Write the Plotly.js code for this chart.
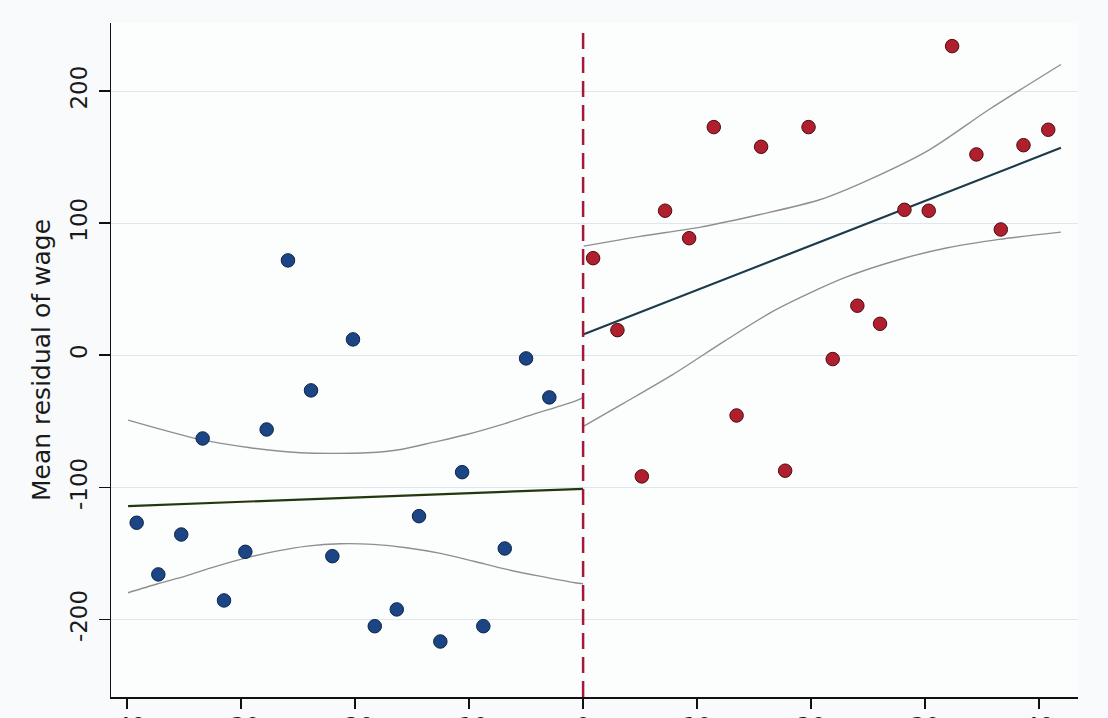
<!DOCTYPE html>
<html>
<head>
<meta charset="utf-8">
<script src="https://cdn.plot.ly/plotly-3.0.1.min.js"></script>
<style>
  html, body { margin: 0; padding: 0; background: #f8fafb; }
  #chart { width: 1108px; height: 718px; }
</style>
</head>
<body>
<div id="chart"></div>
<script>
// ---- Data ----
const cutoff = 0;

// Binned means, left of cutoff
const leftBinX = [-39.15, -37.25, -35.24, -33.36, -31.49, -29.62, -27.75, -25.88, -23.86, -21.99,
                  -20.18, -18.27, -16.34, -14.39, -12.52, -10.61, -8.75, -6.87, -5.0, -2.96];
const leftBinY = [-126.8, -165.9, -135.7, -63.0, -185.6, -148.8, -56.2, 71.8, -26.6, -152.1,
                  12.0, -205.1, -192.4, -121.8, -216.7, -88.5, -205.1, -146.3, -2.4, -31.9];

// Binned means, right of cutoff
const rightBinX = [0.88, 3.01, 5.15, 7.19, 9.30, 11.46, 13.46, 15.61, 17.72, 19.77,
                   21.89, 24.05, 26.04, 28.18, 30.31, 32.36, 34.49, 36.63, 38.62, 40.79];
const rightBinY = [73.5, 19.0, -91.7, 109.4, 88.6, 172.7, -45.6, 157.8, -87.4, 172.7,
                   -2.9, 37.5, 23.8, 110.1, 109.4, 234.0, 152.0, 95.2, 159.0, 170.7];

// Linear fits
const leftFitX = [-39.9, 0];
const leftFitY = [-114.2, -101.1];
const rightFitX = [0, 41.9];
const rightFitY = [15.7, 157.0];

// Confidence bands, left
const leftCIX  = [-39.9, -33.6, -29.2, -24.8, -21.9, -18.9, -16.0, -13.1, -10.2, -7.3, -4.4, -0.7, 0];
const leftCIUp = [-49.1, -63.7, -70.0, -73.8, -74.3, -73.8, -71.3, -65.8, -60.0, -52.9, -44.8, -34.7, -32.0];
const leftCILoX = [-39.9, -37.3, -34.8, -32.7, -29.8, -26.9, -24.2, -21.3, -18.4, -15.5, -12.5, -9.6, -6.7, -3.8, -0.7, 0];
const leftCILo  = [-179.8, -173.0, -167.0, -161.2, -154.0, -148.3, -144.5, -142.7, -143.2, -145.7, -150.0, -155.9, -162.1, -167.2, -172.2, -173.0];

// Confidence bands, right
const rightCIX  = [0.06, 5.0, 10.3, 15.5, 20.8, 25.1, 30.4, 35.6, 41.9];
const rightCIUp = [82.6, 90.0, 97.0, 106.5, 117.9, 133.0, 155.7, 186.0, 220.1];
const rightCILoX = [0.06, 3.38, 7.89, 12.40, 16.92, 22.94, 27.75, 31.96, 36.48, 41.9];
const rightCILo  = [-53.7, -37.2, -14.5, 10.7, 34.5, 58.7, 72.5, 81.4, 87.7, 93.2];

// Axis ticks
const yTickVals = [-200, -100, 0, 100, 200];
const yTickText = ['-200', '-100', '0', '100', '200'];
const xTickVals = [-40, -30, -20, -10, 0, 10, 20, 30, 40];
const xTickText = ['-40', '-30', '-20', '-10', '0', '10', '20', '30', '40'];

// ---- Traces ----
const ciStyle = { color: '#8f8f8f', width: 1.4, shape: 'spline', smoothing: 0.8 };
const traces = [
  { x: leftCIX, y: leftCIUp, mode: 'lines', line: ciStyle, hoverinfo: 'skip' },
  { x: leftCILoX, y: leftCILo, mode: 'lines', line: ciStyle, hoverinfo: 'skip' },
  { x: rightCIX, y: rightCIUp, mode: 'lines', line: ciStyle, hoverinfo: 'skip' },
  { x: rightCILoX, y: rightCILo, mode: 'lines', line: ciStyle, hoverinfo: 'skip' },
  { x: leftFitX, y: leftFitY, mode: 'lines', line: { color: '#24380f', width: 2.2 } },
  { x: rightFitX, y: rightFitY, mode: 'lines', line: { color: '#1d3a48', width: 2.2 } },
  { x: leftBinX, y: leftBinY, mode: 'markers',
    marker: { size: 13.5, color: '#1b4584', line: { color: '#0e2448', width: 1 } } },
  { x: rightBinX, y: rightBinY, mode: 'markers',
    marker: { size: 13.5, color: '#b01f2e', line: { color: '#4a0c12', width: 1 } } }
];

const layout = {
  width: 1108, height: 718,
  showlegend: false,
  paper_bgcolor: '#f8fafb',
  plot_bgcolor: '#fcfdfd',
  margin: { l: 111, r: 30, t: 23, b: 21, pad: 0 },
  font: { family: 'DejaVu Sans, Liberation Sans, sans-serif', color: '#1a1a1a', size: 23 },
  xaxis: {
    range: [-41.4, 43.4],
    tickvals: xTickVals, ticktext: xTickText,
    showgrid: false, zeroline: false,
    showline: true, linecolor: '#111', linewidth: 1.5,
    ticks: 'outside', ticklen: 10, tickwidth: 1.5, tickcolor: '#111',
    tickfont: { size: 23, color: '#1a1a1a' },
    ticklabelstandoff: -2
  },
  yaxis: {
    range: [-258.7, 251.5],
    tickvals: yTickVals, ticktext: yTickText,
    tickangle: -90,
    showgrid: true, gridcolor: '#dce7ee', gridwidth: 1,
    zeroline: false,
    showline: true, linecolor: '#111', linewidth: 1.5,
    ticks: 'outside', ticklen: 11, tickwidth: 1.5, tickcolor: '#111',
    tickfont: { size: 23, color: '#1a1a1a' },
    ticklabelstandoff: 2,
    title: { text: 'Mean residual of wage', font: { size: 25, color: '#1a1a1a' }, standoff: 8 }
  },
  shapes: [
    { type: 'line', xref: 'x', yref: 'paper', x0: cutoff, x1: cutoff, y0: 0, y1: 0.993,
      line: { color: '#a3193a', width: 2.5, dash: '16px,8px' } }
  ]
};

Plotly.newPlot('chart', traces, layout, { displayModeBar: false, staticPlot: true });
</script>
</body>
</html>
